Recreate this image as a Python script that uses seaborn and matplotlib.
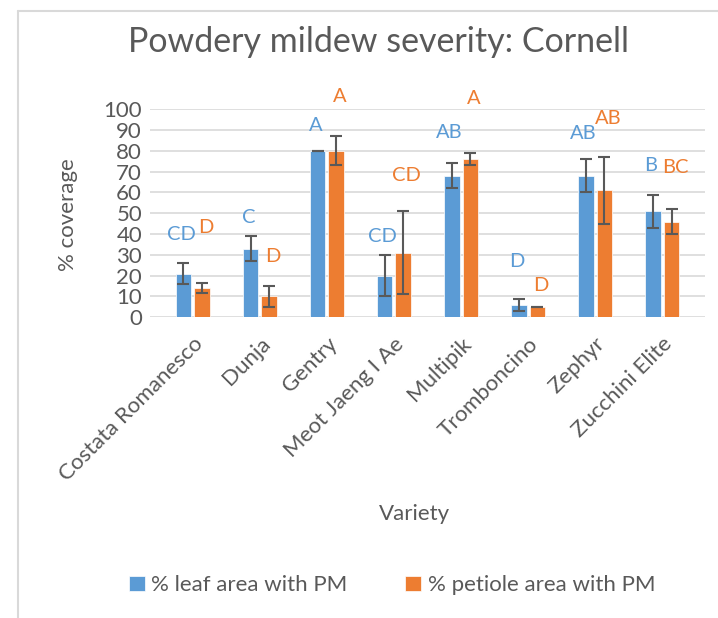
import pandas as pd
import numpy as np
import matplotlib
matplotlib.use('Agg')
import matplotlib.pyplot as plt
from matplotlib.lines import Line2D
import seaborn as sns

# data
varieties = ['Costata Romanesco', 'Dunja', 'Gentry', 'Meot Jaeng I Ae',
             'Multipik', 'Tromboncino', 'Zephyr', 'Zucchini Elite']
leaf_mean = [21, 33, 80, 20, 68, 6, 68, 51]
leaf_err = [5, 6, 0, 10, 6, 3, 8, 8]
petiole_mean = [14, 10, 80, 31, 76, 5, 61, 46]
petiole_err = [2.5, 5, 7, 20, 3, 0, 16, 6]
leaf_letters = ['CD', 'C', 'A', 'CD', 'AB', 'D', 'AB', 'B']
petiole_letters = ['D', 'D', 'A', 'CD', 'A', 'D', 'AB', 'BC']
series = ['% leaf area with PM', '% petiole area with PM']

# where the letters sit (y, data units)
leaf_letter_y = [40, 48, 92, 39, 89, 27, 88.5, 73]
petiole_letter_y = [43, 29, 106, 68, 105, 15.5, 95.5, 72]

df = pd.DataFrame({
    'Variety': varieties * 2,
    'Series': [series[0]] * 8 + [series[1]] * 8,
    'Value': leaf_mean + petiole_mean,
})
errs = leaf_err + petiole_err

blue = '#5B9BD5'
orange = '#ED7D31'
grey = '#595959'

sns.set_style('white')
plt.rcParams['font.family'] = ['Lato', 'DejaVu Sans']
plt.rcParams['text.color'] = grey

fig = plt.figure(figsize=(7.18, 6.18), dpi=100)
ax = fig.add_axes([0.2095, 0.4866, 0.7718, 0.3366])

sns.barplot(data=df, x='Variety', y='Value', hue='Series', order=varieties,
            hue_order=series, palette=[blue, orange], saturation=1,
            width=0.56, gap=0.16, edgecolor='white', linewidth=0.5,
            errorbar=None, ax=ax, zorder=2)

# error bars and letters on top of each bar
bars = ax.patches[:16]
letters = leaf_letters + petiole_letters
letter_y = leaf_letter_y + petiole_letter_y
for i, p in enumerate(bars):
    xc = p.get_x() + p.get_width() / 2
    ax.errorbar(xc, p.get_height(), yerr=errs[i], color=grey, lw=1.5,
                capsize=4.3, capthick=1.5, zorder=3)
    col = blue if i < 8 else orange
    nudge = -1.5 if i < 8 else 2.5
    ax.annotate(letters[i], (xc, letter_y[i]), xytext=(nudge, 0),
                textcoords='offset points', color=col, fontsize=14.5,
                ha='center', va='center', annotation_clip=False)

ax.set_ylim(0, 100)
ax.set_yticks(range(0, 101, 10))
ax.grid(axis='y', color='#d9d9d9', lw=1.2, zorder=0)
ax.set_axisbelow(True)
for s in ax.spines.values():
    s.set_visible(False)
ax.tick_params(axis='both', length=0, labelsize=16, labelcolor=grey)
ax.tick_params(axis='y', pad=6)
ax.tick_params(axis='x', pad=12)
plt.setp(ax.get_xticklabels(), rotation=45, ha='right', rotation_mode='anchor')

ax.set_xlabel('Variety', fontsize=16, color=grey)
ax.xaxis.set_label_coords(0.477, -0.9)
ax.set_ylabel('% coverage', fontsize=16, color=grey)
ax.yaxis.set_label_coords(-0.131, 0.492)

fig.text(378 / 718, 1 - 42 / 618, 'Powdery mildew severity: Cornell',
         fontsize=24.5, color=grey, ha='center', va='center')

handles, labels = ax.get_legend_handles_labels()
ax.get_legend().remove()
fig.legend(handles, labels, loc='center', bbox_to_anchor=(0.546, 0.053),
           ncol=2, frameon=False, fontsize=16, handlelength=0.7,
           handleheight=0.7, handletextpad=0.3, columnspacing=2.6,
           labelcolor=grey)

# chart border (top and left edges visible in the screenshot)
fig.add_artist(Line2D([18 / 718, 1], [1 - 11 / 618] * 2, color='#d9d9d9',
                      lw=1.5, transform=fig.transFigure))
fig.add_artist(Line2D([18 / 718] * 2, [0, 1 - 11 / 618], color='#d9d9d9',
                      lw=1.5, transform=fig.transFigure))

fig.savefig('out.png', dpi=100)
